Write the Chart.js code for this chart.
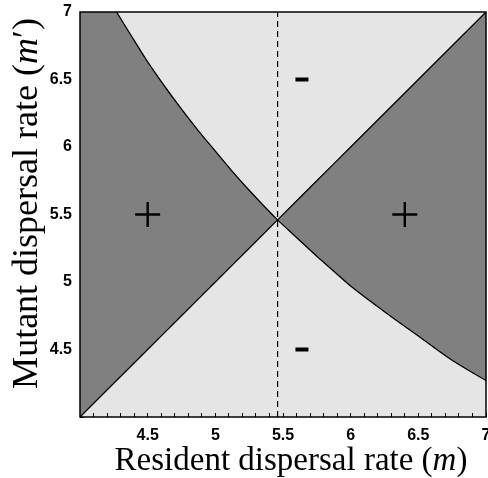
<!DOCTYPE html>
<html>
<head>
<meta charset="utf-8">
<script src="https://cdn.jsdelivr.net/npm/chart.js@4"></script>
<style>
  html, body { margin: 0; padding: 0; background: #fff; }
  #wrap { width: 488px; height: 478px; position: relative; }
</style>
</head>
<body>
<div id="wrap"><canvas id="pip"></canvas></div>
<script>
const resident = [4, 4.27, 4.4, 4.5, 4.625, 4.75, 4.875, 5, 5.125, 5.25, 5.46, 5.6, 5.75, 5.875, 6, 6.25, 6.5, 6.75, 7];
// invasion boundary (curved line), first value runs off the top of the frame
const boundary = [7.45, 7, 6.79, 6.63, 6.45, 6.28, 6.12, 5.97, 5.82, 5.68, 5.46, 5.33, 5.19, 5.08, 4.97, 4.78, 4.6, 4.42, 4.27];
// m' = m diagonal
const diagonal = [4, 4.27, 4.4, 4.5, 4.625, 4.75, 4.875, 5, 5.125, 5.25, 5.46, 5.6, 5.75, 5.875, 6, 6.25, 6.5, 6.75, 7];
// singular strategy (dashed line)
const singularX = [5.46, 5.46];
const singularY = [4, 7];
// sign labels
const plusX = [4.5, 6.4];
const plusY = [5.5, 5.5];
const minusX = [5.64, 5.64];
const minusY = [6.5, 4.5];

const pts = (xs, ys) => xs.map((x, i) => ({ x, y: ys[i] }));

// light grey background + frame around the plot area
const framePlugin = {
  id: 'frame',
  beforeDraw(chart) {
    const { ctx, chartArea: a } = chart;
    ctx.save();
    ctx.fillStyle = '#e5e5e5';
    ctx.fillRect(a.left, a.top, a.right - a.left, a.bottom - a.top);
    ctx.restore();
  },
  afterDraw(chart) {
    const { ctx, chartArea: a } = chart;
    ctx.save();
    ctx.strokeStyle = '#000';
    ctx.lineWidth = 1.5;
    ctx.strokeRect(a.left, a.top, a.right - a.left, a.bottom - a.top);
    ctx.restore();
  }
};

// axis titles with an italic trait symbol
function drawParts(ctx, parts, size) {
  const fonts = parts.map(p => (p.it ? 'italic ' : '') + size + 'px "Liberation Serif"');
  let total = 0;
  const widths = parts.map((p, i) => { ctx.font = fonts[i]; const w = ctx.measureText(p.t).width; total += w; return w; });
  let x = -total / 2;
  parts.forEach((p, i) => {
    ctx.font = fonts[i];
    ctx.fillText(p.t, x, 0);
    x += widths[i];
  });
}

const titlePlugin = {
  id: 'axisTitles',
  afterDraw(chart) {
    const { ctx, chartArea: a } = chart;
    ctx.save();
    ctx.fillStyle = '#000';
    ctx.textBaseline = 'alphabetic';
    ctx.textAlign = 'left';
    // x title
    ctx.save();
    ctx.translate((a.left + a.right) / 2 + 8, 470);
    drawParts(ctx, [{ t: 'Resident dispersal rate (' }, { t: 'm', it: true }, { t: ')' }], 33);
    ctx.restore();
    // y title
    ctx.save();
    ctx.translate(37, (a.top + a.bottom) / 2 - 11);
    ctx.rotate(-Math.PI / 2);
    drawParts(ctx, [{ t: 'Mutant dispersal rate (' }, { t: 'm', it: true }, { t: '′)' }], 36);
    ctx.restore();
    ctx.restore();
  }
};

const halfLabel = (v) => {
  if (v < 4.01) return '';
  return Math.abs(v * 2 - Math.round(v * 2)) < 1e-6 ? String(Math.round(v * 2) / 2) : '';
};

// no extra room for labels hanging over the ends of the axes
const noOverhang = (s) => {
  s.paddingLeft = 0;
  s.paddingRight = 0;
  s.paddingTop = 0;
  s.paddingBottom = 0;
};

const tickFont = { family: 'Liberation Sans', size: 16, weight: 'bold' };

new Chart(document.getElementById('pip'), {
  type: 'line',
  plugins: [framePlugin, titlePlugin],
  data: {
    datasets: [
      {
        data: pts(resident, boundary),
        borderColor: '#000',
        borderWidth: 1.3,
        pointRadius: 0,
        fill: 1,
        backgroundColor: '#808080',
        cubicInterpolationMode: 'monotone',
        order: 5,
      },
      {
        data: pts(resident, diagonal),
        borderColor: '#000',
        borderWidth: 1.3,
        pointRadius: 0,
        fill: false,
        order: 4,
      },
      {
        data: pts(singularX, singularY),
        borderColor: '#000',
        borderWidth: 1.2,
        borderDash: [6, 4],
        pointRadius: 0,
        fill: false,
        order: 3,
      },
      {
        data: pts(plusX, plusY),
        showLine: false,
        pointStyle: 'cross',
        pointRadius: 12.5,
        pointBorderWidth: 2.4,
        pointBorderColor: '#000',
        order: 1,
      },
      {
        data: pts(minusX, minusY),
        showLine: false,
        pointStyle: 'line',
        pointRadius: 6.5,
        pointBorderWidth: 4,
        pointBorderColor: '#000',
        order: 1,
      },
    ],
  },
  options: {
    responsive: true,
    maintainAspectRatio: false,
    animation: false,
    devicePixelRatio: 1,
    layout: { autoPadding: false, padding: { top: 12, right: 2, left: 0, bottom: 0 } },
    plugins: {
      legend: { display: false },
      tooltip: { enabled: false },
    },
    scales: {
      x: {
        type: 'linear',
        min: 4,
        max: 7,
        z: 1,
        afterFit: (s) => { s.height = 61; noOverhang(s); },
        grid: { drawOnChartArea: false, drawTicks: true, tickLength: -4, color: '#000' },
        border: { display: false },
        ticks: {
          stepSize: 0.1,
          autoSkip: false,
          maxRotation: 0,
          padding: 13,
          color: '#000',
          font: tickFont,
          callback: halfLabel,
        },
        title: { display: false },
      },
      y: {
        type: 'linear',
        min: 4,
        max: 7,
        z: 1,
        afterFit: (s) => { s.width = 80; noOverhang(s); },
        grid: { drawOnChartArea: false, drawTicks: true, tickLength: -4, color: '#000' },
        border: { display: false },
        ticks: {
          stepSize: 0.1,
          autoSkip: false,
          padding: 12,
          color: '#000',
          font: tickFont,
          callback: halfLabel,
        },
        title: { display: false },
      },
    },
  },
});
</script>
</body>
</html>
